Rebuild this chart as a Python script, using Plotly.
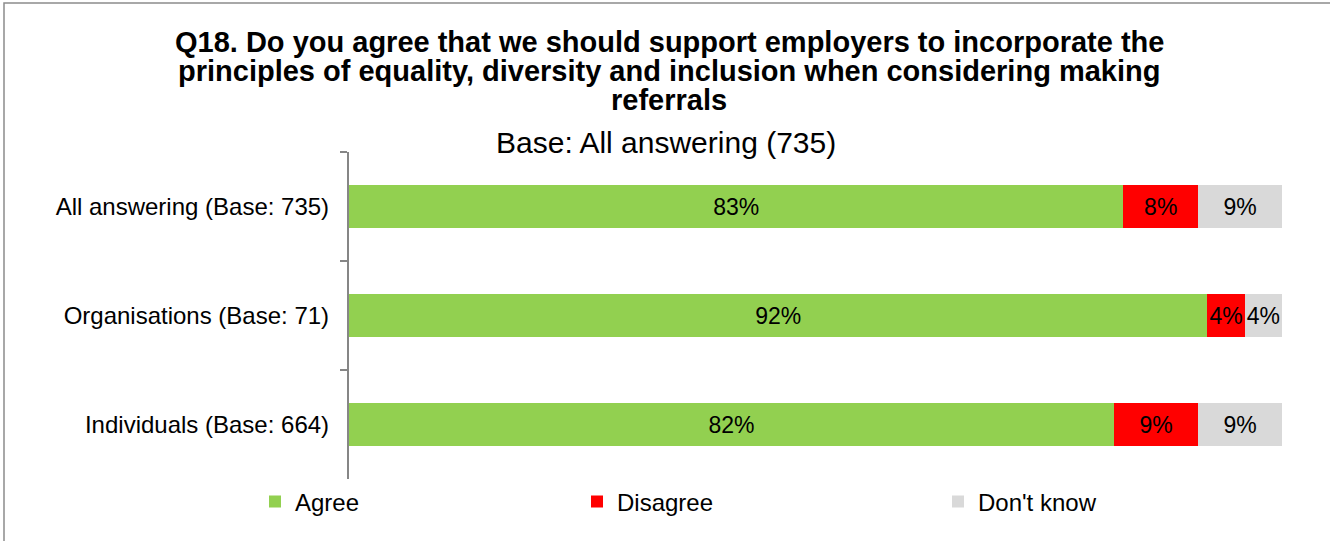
import plotly.graph_objects as go

# Survey responses (percent of respondents)
groups = ["All answering (Base: 735)", "Organisations (Base: 71)", "Individuals (Base: 664)"]
agree = [83, 92, 82]
disagree = [8, 4, 9]
dont_know = [9, 4, 9]

series = [
    ("Agree", agree, "#92D050", "legend"),
    ("Disagree", disagree, "#FF0000", "legend2"),
    ("Don't know", dont_know, "#D9D9D9", "legend3"),
]

W, H = 1330, 541
ML, MR, MT, MB = 349, 48, 152, 62
PW, PH = W - ML - MR, H - MT - MB


def px_x(x):
    return (x - ML) / PW


def px_y(y):
    return (H - MB - y) / PH


FONT = "Liberation Sans, Arial, sans-serif"

fig = go.Figure()
for name, vals, color, leg in series:
    fig.add_trace(go.Bar(
        y=groups, x=vals, name=name, orientation="h",
        marker=dict(color=color, line=dict(width=0)),
        text=[f"{v}%" for v in vals],
        textposition="inside", insidetextanchor="middle",
        textangle=0, constraintext="none",
        textfont=dict(family=FONT, size=23, color="black"),
        legend=leg, hoverinfo="skip",
    ))

legend_common = dict(
    orientation="h", yanchor="middle", xanchor="left",
    font=dict(family=FONT, size=24, color="black"),
    bgcolor="rgba(0,0,0,0)", borderwidth=0,
)

# Title lines and subtitle
title_lines = [
    "Q18. Do you agree that we should support employers to incorporate the",
    "principles of equality, diversity and inclusion when considering making",
    "referrals",
]
title_y = [42, 71, 100]
annotations = []
for txt, ty in zip(title_lines, title_y):
    annotations.append(dict(
        text=f"<b>{txt}</b>", x=px_x(669), y=px_y(ty), xref="paper", yref="paper",
        xanchor="center", yanchor="middle", showarrow=False,
        font=dict(family=FONT, size=29, color="black"),
    ))
annotations.append(dict(
    text="Base: All answering (735)", x=px_x(666), y=px_y(142),
    xref="paper", yref="paper", xanchor="center", yanchor="middle",
    showarrow=False, font=dict(family=FONT, size=30, color="black"),
))

fig.update_layout(
    width=W, height=H,
    margin=dict(l=ML, r=MR, t=MT, b=MB, pad=0),
    barmode="stack", bargap=0.6,
    plot_bgcolor="white", paper_bgcolor="white",
    xaxis=dict(range=[0, 100], visible=False, fixedrange=True),
    yaxis=dict(
        type="category", autorange="reversed",
        tickson="boundaries", ticks="outside", ticklen=7, tickwidth=1.5,
        tickcolor="#868686", showline=True, linecolor="#868686", linewidth=1.5,
        showgrid=False, ticksuffix="  ",
        tickfont=dict(family=FONT, size=24, color="black"),
    ),
    legend=dict(x=px_x(255), y=px_y(502), **legend_common),
    legend2=dict(x=px_x(577), y=px_y(502), **legend_common),
    legend3=dict(x=px_x(938), y=px_y(502), **legend_common),
    annotations=annotations,
    shapes=[
        # chart frame: only its left and top edges fall inside the canvas
        dict(type="rect", xref="paper", yref="paper",
             x0=px_x(4), x1=px_x(W + 40), y0=px_y(H + 40), y1=px_y(3),
             line=dict(color="#8C8C8C", width=1.5), fillcolor="rgba(0,0,0,0)"),
    ],
    showlegend=True,
)

fig.write_html("out.html", config={"displayModeBar": False})
